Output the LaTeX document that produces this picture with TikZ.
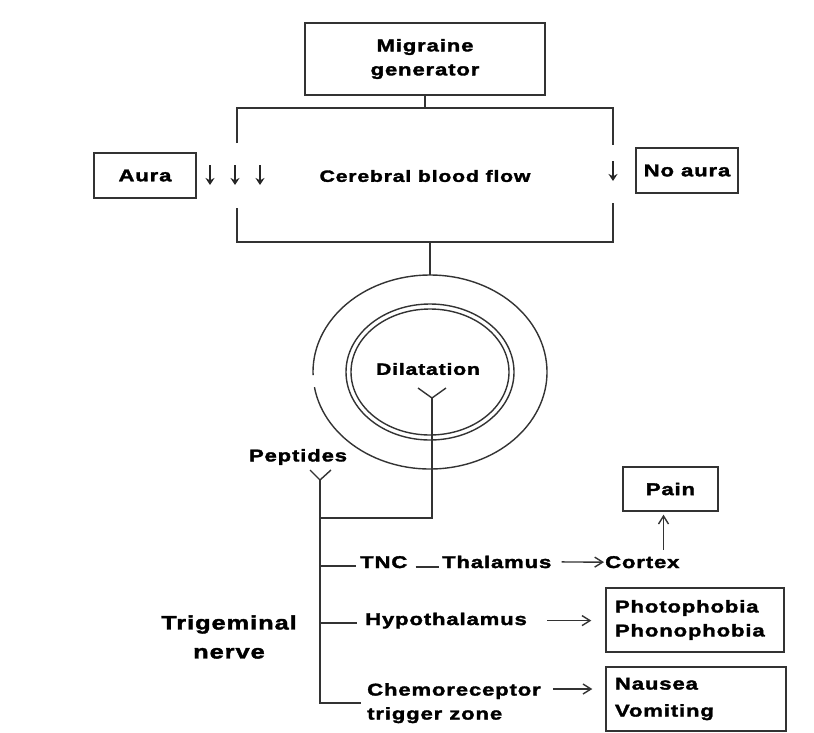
\documentclass[tikz,border=0pt]{standalone}
\usepackage{fontspec}
\newfontfamily\lblfont{Liberation Sans}[FakeStretch=1.3,LetterSpace=5,BoldFeatures={FakeBold=2}]
\usetikzlibrary{arrows.meta,shapes.geometric,calc}
\tikzset{
  ln/.style={line width=1.4pt, draw=black!80},
  box/.style={ln, rectangle, inner sep=0pt},
  lbl/.style={font=\lblfont\bfseries\fontsize{17}{24}\selectfont, inner sep=0pt, text=black},
  sml/.style={font=\lblfont\bfseries\fontsize{16.3}{24}\selectfont, inner sep=0pt, text=black},
  bigl/.style={font=\lblfont\bfseries\fontsize{19.5}{29}\selectfont, inner sep=0pt, text=black},
  opar/.style={ln, -{Straight Barb[length=8pt,width=10pt,line width=1.4pt]}},
  dnar/.style={line width=1.6pt, draw=black!85, -{Stealth[length=7pt,width=9pt]}},
}
\begin{document}
\begin{tikzpicture}[x=1pt,y=-1pt]
\useasboundingbox (0,0) rectangle (814,732);

% top part
\node[box,lbl,align=center,minimum width=240,minimum height=72] (mg) at (425,59) {Migraine\\generator};
\node[sml] (cbf) at (425,176) {Cerebral blood flow};
\node[box,lbl,minimum width=102,minimum height=45] (aura) at (145,175.5) {Aura};
\node[box,lbl,minimum width=102,minimum height=45] (noaura) at (687,170.5) {No aura};

\coordinate (tl) at (237,108);
\coordinate (tr) at (613,108);
\coordinate (bl) at (237,242);
\coordinate (br) at (613,242);
\draw[ln] (mg.south) -- (mg.south |- tl);
\draw[ln] (237,143) -- (tl) -- (tr) -- (613,145);
\draw[ln] (237,208) -- (bl) -- (br) -- (613,203);

% decrease arrows
\draw[dnar] (210,165) -- (210,185);
\draw[dnar] (235,165) -- (235,185);
\draw[dnar] (260,165) -- (260,185);
\draw[dnar] (613,161) -- (613,181);

% vessel
\node[ellipse, minimum width=234, minimum height=194, inner sep=0pt] (vessel) at (430,372) {};
\draw[ln] (vessel.north |- bl) -- (vessel.north);
\draw[ln] ([shift={(189:117pt and 97pt)}]vessel.center) arc[start angle=189, end angle=541.8, x radius=117pt, y radius=97pt];
\draw[ln] (vessel.center) ellipse[x radius=84pt, y radius=68pt];
\draw[ln] (vessel.center) ellipse[x radius=79pt, y radius=63pt];
\node[sml] (dil) at (428,369) {Dilatation};

% dilatation receptor
\coordinate (dY) at (432,398);
\draw[ln] (418,388) -- (dY) -- (446,388);

% peptides
\node[lbl] (pep) at (298,457) {Peptides};
\coordinate (pY) at (320,480);
\draw[ln] (310,470) -- (pY) -- (331,470);
\draw[ln] (dY) -- (dY |- 0,518) -- (pY |- 0,518);

% trigeminal branches
\node[lbl, anchor=base west] (tnc) at (360,568) {TNC};
\node[lbl, anchor=base west] (thal) at (442,568) {Thalamus};
\node[lbl, anchor=base west] (ctx) at (605,568) {Cortex};
\node[box,lbl,minimum width=95,minimum height=44] (pain) at (670.5,489) {Pain};
\node[lbl, anchor=base west] (hyp) at (365,625) {Hypothalamus};
\node[lbl, anchor=north west, align=left] (chemo) at (367,683) {Chemoreceptor\\trigger zone};
\node[box,lbl,align=left,text width=160,minimum width=178,minimum height=64] (photo) at (695,620) {Photophobia\\Phonophobia};
\node[box,lbl,align=left,text width=162,minimum width=180,minimum height=64,font=\lblfont\bfseries\fontsize{17}{27}\selectfont] (naus) at (696,699) {Nausea\\Vomiting};
\node[bigl, align=center] (tn) at (229,637) {Trigeminal\\nerve};

\draw[ln] (pY) -- (pY |- chemo.west) -- ($(chemo.west)+(-6,0)$);
\draw[ln] ($(pY |- tnc.base west)+(0,-2)$) -- ($(tnc.base west)+(-4,-2)$);
\draw[ln] ($(pY |- hyp.base west)+(0,-2)$) -- ($(hyp.base west)+(-8,-2)$);
\draw[ln] ($(tnc.base east)+(8,-1)$) -- ($(thal.base west)+(-3,-1)$);
\draw[opar] ($(thal.east)+(10,0)$) -- ($(ctx.west)+(-1,0)$);
\draw[opar] ($(ctx.north -| pain.south)+(-7,-6)$) -- ($(pain.south)+(-7,3)$);
\draw[opar] ($(hyp.east)+(20,0)$) -- ($(hyp.east -| photo.west)+(-14,0)$);
\draw[opar] ($(chemo.north east)+(12,6)$) -- ($(chemo.north east -| naus.west)+(-13,6)$);
\end{tikzpicture}
\end{document}
